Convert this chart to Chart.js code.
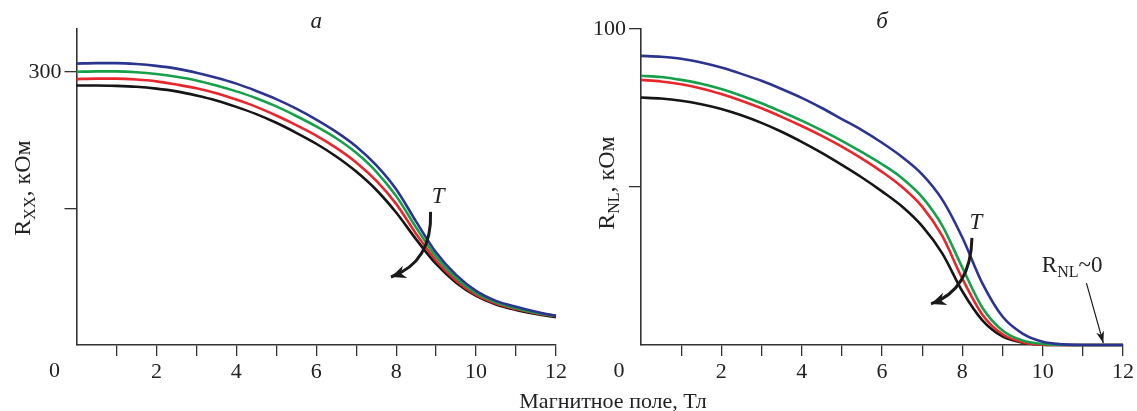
<!DOCTYPE html>
<html>
<head>
<meta charset="utf-8">
<script src="https://cdn.jsdelivr.net/npm/chart.js@4.4.1/dist/chart.umd.min.js"></script>
<style>
  body { margin: 0; background: #fff; width: 1137px; height: 411px; overflow: hidden; position: relative; font-family: "Liberation Serif", serif; }
  canvas { position: absolute; top: 0; }
  #xtitle { position: absolute; left: 463px; width: 300px; top: 390px; text-align: center; font-size: 22px; line-height: 22px; color: #222; }
</style>
</head>
<body>
<canvas id="panelA" width="570" height="411" style="left:0"></canvas>
<canvas id="panelB" width="567" height="411" style="left:570px"></canvas>
<div id="xtitle">Магнитное поле, Тл</div>
<script>
// magnetic field, T
const field = [0, 0.5, 1, 1.5, 2, 2.5, 3, 3.5, 4, 4.5, 5, 5.5, 6, 6.5, 7, 7.5, 8, 8.5, 9, 9.5, 10, 10.5, 11, 11.5, 12];

// panel a: Rxx, kOhm (temperature rises blue -> green -> red -> black)
const rxxBlue  = [309, 309.5, 309.5, 308.5, 306.5, 303.5, 299, 293.5, 287, 279, 270, 259.5, 247.5, 234, 218, 197.5, 171, 135.5, 101.5, 77, 59.5, 48.5, 42, 36.5, 32];
const rxxGreen = [300, 300.5, 300.5, 299.5, 297.5, 294.5, 290.5, 285, 278.5, 271, 262, 251.5, 240, 227, 211, 190.5, 163.5, 129, 97, 73.5, 57, 47, 40.5, 35.5, 32];
const rxxRed   = [292, 292.5, 292.5, 291.5, 289.5, 286, 282, 276.5, 269.5, 261.5, 252, 241.5, 230, 216.5, 200.5, 180.5, 155, 122, 92.5, 70.5, 55, 45.5, 39.5, 35, 31.5];
const rxxBlack = [285, 285, 284.5, 283.5, 281.5, 278.5, 274, 268.5, 261.5, 253.5, 244, 233, 221, 207, 190.5, 170.5, 145.5, 116, 89, 68.5, 54, 44.5, 38.5, 34, 30.5];

// panel b: Rnl, kOhm
const rnlBlue  = [91.5, 91.2, 90.6, 89.4, 87.8, 85.8, 83.6, 81.0, 78.2, 75.0, 71.5, 68.0, 64.0, 59.5, 54.0, 46.0, 34.0, 19.5, 9.0, 3.6, 1.0, 0.2, 0, 0, 0];
const rnlGreen = [85.2, 84.8, 83.9, 82.7, 81.0, 78.9, 76.5, 73.8, 71.0, 67.9, 64.6, 61.0, 57.2, 52.8, 46.8, 37.8, 24.5, 11.8, 4.6, 1.4, 0.3, 0, 0, 0, 0];
const rnlRed   = [83.9, 83.4, 82.5, 81.2, 79.4, 77.3, 74.9, 72.2, 69.3, 66.2, 62.8, 59.0, 54.8, 50.0, 43.8, 34.5, 21.0, 9.6, 3.4, 0.9, 0.1, 0, 0, 0, 0];
const rnlBlack = [78.3, 78.0, 77.3, 76.2, 74.7, 72.7, 70.3, 67.5, 64.3, 60.8, 57.0, 53.0, 48.6, 43.8, 37.6, 29.0, 17.0, 7.8, 2.7, 0.7, 0.1, 0, 0, 0, 0];

// y ticks
const rxxTicks = [150, 300];
const rnlTicks = [50, 100];

const SERIF = '"Liberation Serif", "Times New Roman", serif';
const INK = '#222';
const AXIS = '#333';
const COLORS = { blue: '#2b3590', green: '#16a04a', red: '#e8262b', black: '#151515' };

function line(color, values) {
  return {
    data: field.map((x, i) => ({ x: x, y: values[i] })),
    borderColor: color,
    borderWidth: 2.6,
    pointRadius: 0,
    cubicInterpolationMode: 'monotone',
    clip: false
  };
}

function xAxis() {
  return {
    type: 'linear', min: 0, max: 12,
    afterFit: s => { s.height = 66; },
    ticks: {
      stepSize: 1, autoSkip: false, maxRotation: 0, padding: 3, color: INK,
      font: { family: SERIF, size: 22 },
      callback: v => (v > 0 && v % 2 === 0) ? String(v) : ''
    },
    grid: {
      drawOnChartArea: false, tickLength: 11, lineWidth: 1.3,
      color: c => (c.tick && c.tick.value === 0) ? 'rgba(0,0,0,0)' : AXIS
    },
    border: { color: AXIS, width: 1.6 }
  };
}

function yAxis(max, ticks, labelled, width) {
  return {
    type: 'linear', min: 0, max: max,
    afterFit: s => { s.width = width; },
    afterBuildTicks: s => { s.ticks = ticks.map(v => ({ value: v })); },
    ticks: {
      padding: 3, color: INK, font: { family: SERIF, size: 22 },
      callback: v => v === labelled ? String(v) : ''
    },
    grid: { drawOnChartArea: false, tickLength: 12, lineWidth: 1.3, color: AXIS },
    border: { color: AXIS, width: 1.6 }
  };
}

// draws a run of text pieces (for subscripts)
function rich(ctx, x, y, segs, align) {
  let w = 0;
  segs.forEach(s => {
    ctx.font = (s.italic ? 'italic ' : '') + s.size + 'px ' + SERIF;
    s.w = ctx.measureText(s.t).width;
    w += s.w;
  });
  let cx = align === 'center' ? x - w / 2 : x;
  ctx.textAlign = 'left';
  ctx.textBaseline = 'alphabetic';
  segs.forEach(s => {
    ctx.font = (s.italic ? 'italic ' : '') + s.size + 'px ' + SERIF;
    ctx.fillText(s.t, cx, y + (s.dy || 0));
    cx += s.w;
  });
}

function arrowHead(ctx, tip, from, len, half) {
  const a = Math.atan2(tip[1] - from[1], tip[0] - from[0]);
  const c = Math.cos(a), s = Math.sin(a);
  const bx = tip[0] - c * len, by = tip[1] - s * len;
  ctx.beginPath();
  ctx.moveTo(tip[0], tip[1]);
  ctx.lineTo(bx - s * half, by + c * half);
  ctx.lineTo(tip[0] - c * len * 0.7, tip[1] - s * len * 0.7);
  ctx.lineTo(bx + s * half, by - c * half);
  ctx.closePath();
  ctx.fill();
}

function notes(cfg) {
  return {
    id: 'notes',
    afterDraw(chart) {
      const ctx = chart.ctx;
      const sx = chart.scales.x, sy = chart.scales.y;
      const P = p => [sx.getPixelForValue(p[0]), sy.getPixelForValue(p[1])];
      ctx.save();
      ctx.fillStyle = INK;
      ctx.strokeStyle = '#1a1a1a';

      // origin zero
      ctx.font = '22px ' + SERIF;
      ctx.textAlign = 'center';
      ctx.textBaseline = 'middle';
      ctx.fillText('0', sx.getPixelForValue(0) - 22, 371);

      // panel letter
      const L = P(cfg.letterAt);
      rich(ctx, L[0], L[1], [{ t: cfg.letter, size: 23, italic: true }], 'center');

      // T label and curved arrow
      const T = P(cfg.tAt);
      rich(ctx, T[0], T[1], [{ t: 'T', size: 23, italic: true }], 'center');
      const a0 = P(cfg.arrow[0]), a1 = P(cfg.arrow[1]), a2 = P(cfg.arrow[2]);
      ctx.lineWidth = 3;
      ctx.beginPath();
      ctx.moveTo(a0[0], a0[1]);
      ctx.quadraticCurveTo(a1[0], a1[1], a2[0], a2[1]);
      ctx.stroke();
      ctx.fillStyle = '#1a1a1a';
      arrowHead(ctx, a2, a1, 15, 6.5);

      // extra note
      if (cfg.note) {
        ctx.fillStyle = INK;
        const N = P(cfg.note.at);
        rich(ctx, N[0], N[1], cfg.note.segs, 'left');
        const b0 = P(cfg.note.arrow[0]), b1 = P(cfg.note.arrow[1]);
        ctx.lineWidth = 1.2;
        ctx.beginPath();
        ctx.moveTo(b0[0], b0[1]);
        ctx.lineTo(b1[0], b1[1]);
        ctx.stroke();
        ctx.fillStyle = '#1a1a1a';
        arrowHead(ctx, b1, b0, 12, 4);
      }

      // rotated y title
      ctx.fillStyle = INK;
      ctx.translate(cfg.yTitle.x, cfg.yTitle.y);
      ctx.rotate(-Math.PI / 2);
      rich(ctx, 0, 0, cfg.yTitle.segs, 'center');
      ctx.restore();
    }
  };
}

function makeChart(id, values, yMax, ticks, labelled, yWidth, cfg) {
  return new Chart(document.getElementById(id), {
    type: 'line',
    data: {
      datasets: [
        line(COLORS.blue, values[0]),
        line(COLORS.green, values[1]),
        line(COLORS.red, values[2]),
        line(COLORS.black, values[3])
      ]
    },
    options: {
      responsive: false,
      animation: false,
      layout: { padding: { left: 0, top: 29, right: 12, bottom: 0 } },
      plugins: { legend: { display: false }, tooltip: { enabled: false } },
      scales: { x: xAxis(), y: yAxis(yMax, ticks, labelled, yWidth) }
    },
    plugins: [notes(cfg)]
  });
}

makeChart('panelA', [rxxBlue, rxxGreen, rxxRed, rxxBlack], 347, rxxTicks, 300, 76.5, {
  letter: 'а', letterAt: [6.0, 348.4],
  tAt: [9.05, 156],
  arrow: [[8.86, 146.2], [8.91, 91.2], [7.87, 74.7]],
  yTitle: { x: 29.5, y: 188, segs: [
    { t: 'R', size: 24 }, { t: 'XX', size: 16, dy: 5 }, { t: ', кОм', size: 24 }
  ] }
});

makeChart('panelB', [rnlBlue, rnlGreen, rnlRed, rnlBlack], 100, rnlTicks, 100, 71, {
  letter: 'б', letterAt: [6.0, 100.2],
  tAt: [8.34, 36.8],
  arrow: [[8.24, 33.9], [8.21, 17.4], [7.22, 13]],
  note: {
    at: [9.98, 23.1],
    segs: [{ t: 'R', size: 23 }, { t: 'NL', size: 16, dy: 5 }, { t: '~0', size: 23 }],
    arrow: [[11.09, 19.6], [11.51, 0.6]]
  },
  yTitle: { x: 44, y: 183, segs: [
    { t: 'R', size: 24 }, { t: 'NL', size: 16, dy: 5 }, { t: ', кОм', size: 24 }
  ] }
});
</script>
</body>
</html>
